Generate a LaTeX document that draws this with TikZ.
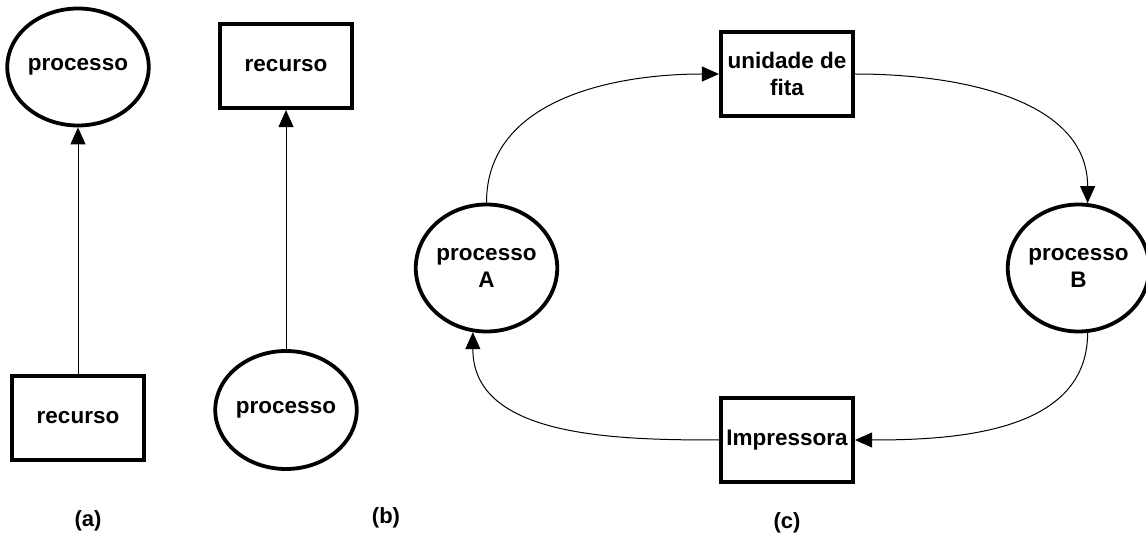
\documentclass[tikz,border=0pt]{standalone}
\usepackage{fontspec}
\setmainfont{Liberation Sans}
\usetikzlibrary{shapes.geometric,arrows.meta}
\begin{document}
\begin{tikzpicture}[x=1pt,y=-1pt,
  every node/.style={font=\bfseries\fontsize{22.5}{27}\selectfont, align=center, inner sep=0pt},
  proc/.style={ellipse, draw, line width=3.8pt, minimum width=133pt, minimum height=117pt},
  res/.style={rectangle, draw, line width=4.2pt, minimum width=132pt, minimum height=84pt},
  conn/.style={line width=1pt, -{Triangle[length=17pt,width=15pt]}},
  lbl/.style={font=\bfseries\fontsize{22}{26}\selectfont}]
\useasboundingbox (0,0) rectangle (1146,534);
% (a)
\node[proc] (pa) at (78,67) {processo};
\node[res] (ra) at (78,418) {recurso};
\draw[conn] (ra.north) -- (pa.south);
\node[lbl] (la) at (88,521) {(a)};
% (b)
\node[res] (rb) at (286,66) {recurso};
\node[proc, minimum height=118pt] (pb) at (286,410) {processo};
\draw[conn] (pb.north) -- (rb.south);
\node[lbl] (lb) at (386,518) {(b)};
% (c)
\node[res] (fita) at (787,74) {unidade de\\fita};
\node[res] (imp) at (787,440) {Impressora};
\node[proc, minimum width=133pt, minimum height=127pt] (A) at (486.5,268) {processo\\A};
\node[proc, minimum width=130pt, minimum height=127pt] (B) at (1078.5,268) {processo\\B};
\draw[conn] (A.north) to[out=90,in=180] (fita.west);
\draw[conn] (fita.east) to[out=0,in=90] (B.82);
\draw[conn] (B.-82) to[out=-90,in=0] (imp.east);
\draw[conn] (imp.west) to[out=180,in=-90] (A.-102);
\node[lbl] (lc) at (787,523) {(c)};
\end{tikzpicture}
\end{document}
